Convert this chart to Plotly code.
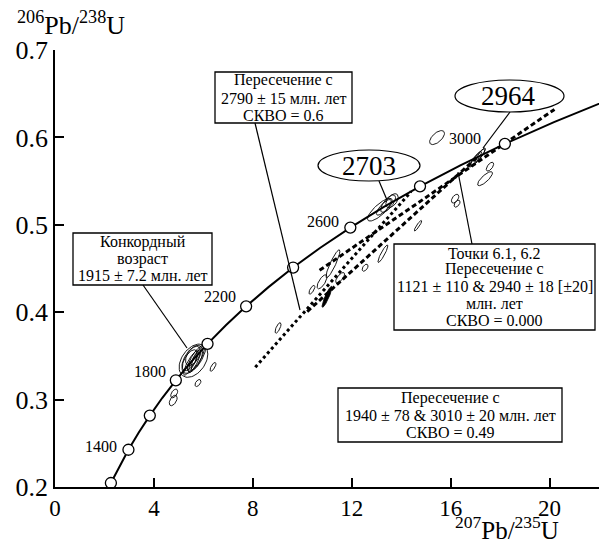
import numpy as np
import plotly.graph_objects as go

# ---- Data -------------------------------------------------------------
# Concordia curve (age, Ma) and its coordinates
conc_age = [1200, 1300, 1400, 1500, 1600, 1700, 1800, 1900, 2000, 2100, 2200,
            2300, 2400, 2500, 2600, 2700, 2800, 2900, 3000, 3100, 3200]
conc_x = [2.2603, 2.5977, 2.9701, 3.3810, 3.8344, 4.3346, 4.8869, 5.4962, 6.1685,
          6.9104, 7.7292, 8.6326, 9.6295, 10.7297, 11.9437, 13.2834, 14.7616,
          16.3929, 18.1931, 20.1795, 22.3715]
conc_y = [0.2046, 0.2234, 0.2426, 0.2620, 0.2817, 0.3018, 0.3221, 0.3428, 0.3638,
          0.3851, 0.4067, 0.4287, 0.4511, 0.4738, 0.4968, 0.5202, 0.5440, 0.5681,
          0.5926, 0.6175, 0.6428]
marker_ages = [1200, 1400, 1600, 1800, 2000, 2200, 2400, 2600, 2800, 3000]
label_ages = [1400, 1800, 2200, 2600, 3000]
label_shift_x = [-9, -8, -8, -9, -22]
label_shift_y = [3, 9, 10, 6, 5]

x_ticks = [0, 4, 8, 12, 16, 20]
y_ticks = [0.2, 0.3, 0.4, 0.5, 0.6, 0.7]
y_tick_text = ["0.2", "0.3", "0.4", "0.5", "0.6", "0.7"]

# Discordia lines (end points)
disc_dot_x = [8.1, 14.4]
disc_dot_y = [0.337, 0.538]
disc_a_x = [10.2, 17.1]      # 1121 & 2940
disc_a_y = [0.4007, 0.578]
disc_b_x = [10.7, 20.2]      # 1940 & 3010
disc_b_y = [0.448, 0.632]

# Error ellipses: centre, half-extent in x and y, correlation
ell_x = [5.60, 5.55, 5.70, 5.50, 5.65, 5.45, 5.80, 5.58,
         4.82, 4.78, 6.39, 5.78, 9.02, 10.39, 10.80, 11.24, 11.53,
         12.54, 13.26, 14.68, 13.14, 13.47, 13.63, 13.30,
         15.45, 17.59, 17.39, 16.18, 16.26, 17.10, 17.20, 17.00]
ell_y = [0.3445, 0.3460, 0.3470, 0.3420, 0.3440, 0.3450, 0.3480, 0.3500,
         0.3070, 0.2990, 0.3375, 0.3190, 0.3820, 0.4257, 0.4348, 0.4554, 0.4394,
         0.4509, 0.4669, 0.4990, 0.5173, 0.5242, 0.5276, 0.5200,
         0.5998, 0.5665, 0.5528, 0.5299, 0.5242, 0.5770, 0.5800, 0.5750]
ell_sx = [0.58, 0.42, 0.35, 0.30, 0.25, 0.30, 0.30, 0.30,
          0.14, 0.16, 0.12, 0.12, 0.12, 0.12, 0.20, 0.28, 0.18,
          0.12, 0.20, 0.15, 0.50, 0.30, 0.25, 0.30,
          0.30, 0.15, 0.30, 0.15, 0.12, 0.30, 0.20, 0.25]
ell_sy = [0.019, 0.016, 0.015, 0.014, 0.013, 0.012, 0.014, 0.011,
          0.005, 0.006, 0.005, 0.004, 0.006, 0.005, 0.008, 0.016, 0.006,
          0.004, 0.010, 0.006, 0.013, 0.010, 0.008, 0.009,
          0.008, 0.005, 0.008, 0.005, 0.004, 0.010, 0.008, 0.009]
ell_rho = [0.40, 0.55, 0.80, 0.85, 0.85, 0.60, 0.80, 0.50,
           0.50, 0.50, 0.70, 0.50, 0.70, 0.70, 0.70, 0.90, 0.70,
           0.50, 0.90, 0.90, 0.80, 0.70, 0.50, 0.80,
           0.60, 0.60, 0.80, 0.50, 0.50, 0.90, 0.90, 0.90]
blob_x = [11.00]
blob_y = [0.4176]
blob_sx = [0.20]
blob_sy = [0.012]
blob_rho = [0.90]

# Text boxes: (left, top, right, bottom) in pixels, lines, line centres (px)
box_rects = [(215, 72, 352, 123), (73, 233, 212, 285),
             (394, 244, 595, 330), (338, 388, 562, 442)]
box_lines = [
    ["Пересечение с", "2790 ± 15 млн. лет", "СКВО = 0.6"],
    ["Конкордный", "возраст", "1915 ± 7.2 млн. лет"],
    ["Точки 6.1, 6.2", "Пересечение с", "1121 ± 110 &amp; 2940 ± 18 [±20]",
     "млн. лет", "СКВО = 0.000"],
    ["Пересечение с", "1940 ± 78 &amp; 3010 ± 20 млн. лет", "СКВО = 0.49"],
]
box_line_y = [[80, 98, 115], [242, 259, 275],
              [253, 269, 286, 303, 320], [398, 415, 432]]

FONT = "Liberation Serif"

# pixel -> data / paper helpers (plot area spans x 55..599, y 50..487)
PX0, PX1, PY0, PY1 = 55, 599, 50, 487


def px_x(p):
    return (p - PX0) / (PX1 - PX0) * 22


def px_y(p):
    return 0.2 + (PY1 - p) / (PY1 - PY0) * 0.5


def paper_x(p):
    return (p - PX0) / (PX1 - PX0)


def paper_y(p):
    return (PY1 - p) / (PY1 - PY0)


def ellipse_path(cx, cy, sx, sy, rho, n=60):
    t = np.linspace(0, 2 * np.pi, n)
    xs = cx + sx * np.cos(t)
    ys = cy + sy * (rho * np.cos(t) + np.sqrt(1 - rho ** 2) * np.sin(t))
    return list(xs), list(ys)


fig = go.Figure()

# ellipses
ex, ey = [], []
for cx, cy, sx, sy, r in zip(ell_x, ell_y, ell_sx, ell_sy, ell_rho):
    xs, ys = ellipse_path(cx, cy, sx, sy, r)
    ex += xs + [None]
    ey += ys + [None]
fig.add_trace(go.Scatter(x=ex, y=ey, mode="lines",
                         line=dict(color="black", width=0.9),
                         hoverinfo="skip", showlegend=False))
for cx, cy, sx, sy, r in zip(blob_x, blob_y, blob_sx, blob_sy, blob_rho):
    xs, ys = ellipse_path(cx, cy, sx, sy, r)
    fig.add_trace(go.Scatter(x=xs, y=ys, mode="lines", fill="toself",
                             fillcolor="black",
                             line=dict(color="black", width=0.8),
                             hoverinfo="skip", showlegend=False))

# discordia lines
fig.add_trace(go.Scatter(x=disc_dot_x, y=disc_dot_y, mode="lines",
                         line=dict(color="black", width=3, dash="dot"),
                         showlegend=False))
fig.add_trace(go.Scatter(x=disc_a_x, y=disc_a_y, mode="lines",
                         line=dict(color="black", width=3, dash="5px,3px"),
                         showlegend=False))
fig.add_trace(go.Scatter(x=disc_b_x, y=disc_b_y, mode="lines",
                         line=dict(color="black", width=3, dash="5px,3px"),
                         showlegend=False))

# concordia
fig.add_trace(go.Scatter(x=conc_x, y=conc_y, mode="lines",
                         line=dict(color="black", width=2),
                         showlegend=False))
mx = [conc_x[conc_age.index(a)] for a in marker_ages]
my = [conc_y[conc_age.index(a)] for a in marker_ages]
fig.add_trace(go.Scatter(x=mx, y=my, mode="markers",
                         marker=dict(size=11, color="white",
                                     line=dict(color="black", width=1.3)),
                         showlegend=False))

annotations = []
for a, dx, dy in zip(label_ages, label_shift_x, label_shift_y):
    i = conc_age.index(a)
    annotations.append(dict(x=conc_x[i], y=conc_y[i], xref="x", yref="y",
                            text=str(a), showarrow=False, xanchor="right",
                            yanchor="middle", xshift=dx, yshift=dy,
                            font=dict(family=FONT, size=16, color="black")))

line_style = dict(color="black", width=1.2)
shapes = []
box_font = dict(family=FONT, size=16, color="black")
for (l, t, r, b), lines, ys in zip(box_rects, box_lines, box_line_y):
    shapes.append(dict(type="rect", xref="x", yref="y",
                       x0=px_x(l), x1=px_x(r), y0=px_y(b), y1=px_y(t),
                       line=dict(color="black", width=1.3), fillcolor="white",
                       layer="above"))
    for txt, yy in zip(lines, ys):
        annotations.append(dict(x=px_x((l + r) / 2), y=px_y(yy), xref="x", yref="y",
                                text=txt, showarrow=False, xanchor="center",
                                yanchor="middle", font=box_font))

# labelled ellipses "2703" and "2964"
shapes.append(dict(type="circle", xref="x", yref="y", x0=px_x(318), x1=px_x(420),
                   y0=px_y(181), y1=px_y(150), line=line_style,
                   fillcolor="white", layer="above"))
shapes.append(dict(type="circle", xref="x", yref="y", x0=px_x(455), x1=px_x(564),
                   y0=px_y(112), y1=px_y(80), line=line_style,
                   fillcolor="white", layer="above"))
annotations.append(dict(x=px_x(369), y=px_y(166), xref="x", yref="y", text="2703",
                        showarrow=False, font=dict(family=FONT, size=27, color="black")))
annotations.append(dict(x=px_x(508), y=px_y(96), xref="x", yref="y", text="2964",
                        showarrow=False, font=dict(family=FONT, size=27, color="black")))

# leader lines (pixel end points)
leaders = [((255, 123), (300, 310)), ((143, 285), (187, 348)),
           ((379, 181), (387, 200)), ((510, 112), (483, 148)),
           ((472, 244), (458, 172))]
for (xa, ya), (xb, yb) in leaders:
    shapes.append(dict(type="line", xref="x", yref="y", x0=px_x(xa), y0=px_y(ya),
                       x1=px_x(xb), y1=px_y(yb), line=line_style, layer="above"))

# axis titles (paper coordinates, outside the plot area)
annotations.append(dict(x=paper_x(15), y=paper_y(24), xref="paper", yref="paper",
                        text="<sup>206</sup>Pb/<sup>238</sup>U", showarrow=False,
                        xanchor="left", yanchor="middle",
                        font=dict(family=FONT, size=26, color="black")))
annotations.append(dict(x=paper_x(507), y=paper_y(528), xref="paper", yref="paper",
                        text="<sup>207</sup>Pb/<sup>235</sup>U", showarrow=False,
                        xanchor="center", yanchor="middle",
                        font=dict(family=FONT, size=25, color="black")))

fig.update_layout(
    width=599, height=542,
    margin=dict(l=PX0, r=599 - PX1, t=PY0, b=542 - PY1),
    paper_bgcolor="white", plot_bgcolor="white",
    showlegend=False,
    annotations=annotations,
    shapes=shapes,
    xaxis=dict(range=[0, 22], tickvals=x_ticks, showgrid=False,
               zeroline=False, showline=True, linecolor="black", linewidth=1.5,
               ticks="inside", ticklen=9, tickwidth=1.5, tickcolor="black",
               tickfont=dict(family=FONT, size=23, color="black")),
    yaxis=dict(range=[0.2, 0.7], tickvals=y_ticks, ticktext=y_tick_text,
               showgrid=False, zeroline=False, showline=True, linecolor="black",
               linewidth=1.5, ticks="inside", ticklen=9, tickwidth=1.5,
               tickcolor="black", ticklabelstandoff=0,
               tickfont=dict(family=FONT, size=26, color="black")),
)

fig.write_html("out.html", config={"displayModeBar": False},
               post_script="document.body.style.margin='0';")
